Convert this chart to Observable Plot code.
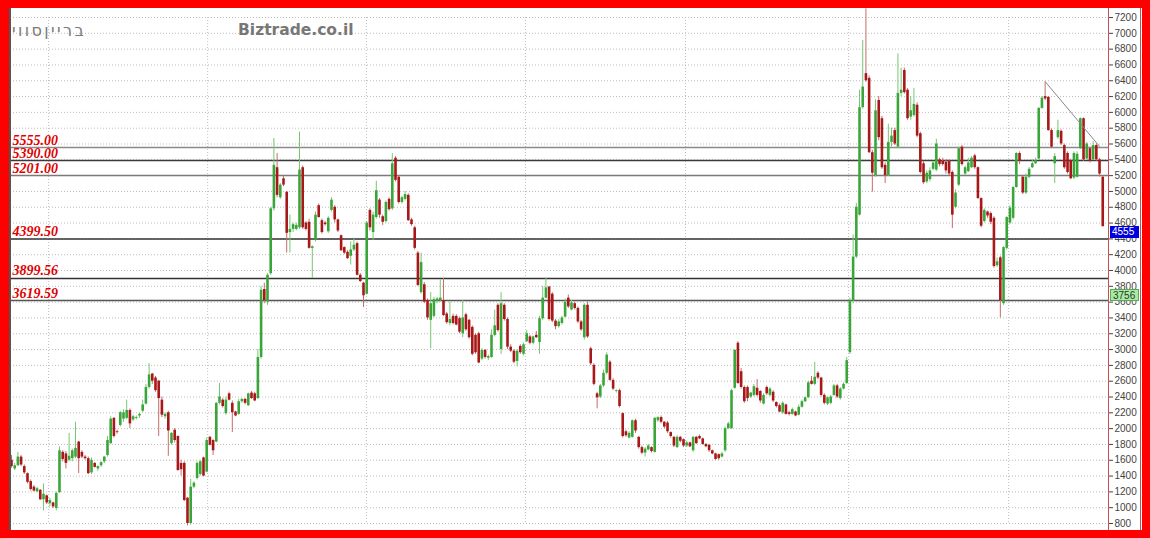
<!DOCTYPE html>
<html><head><meta charset="utf-8">
<script src="https://cdn.jsdelivr.net/npm/d3@7"></script>
<script src="https://cdn.jsdelivr.net/npm/@observablehq/plot@0.6"></script>
<style>
html,body{margin:0;padding:0;background:#fff;}
#frame{position:absolute;left:0;top:0;width:1150px;height:538px;background:#ff0000;}
#inner{position:absolute;left:9px;top:8px;width:1133px;height:522px;background:#fff;overflow:hidden;}
#inner svg{position:absolute;left:0;top:0;}
.ov{position:absolute;white-space:nowrap;}
</style></head>
<body><div id="frame"><div id="inner"></div></div>
<script>
// Weekly candles
const open = [
1600,1490,1530,1640,1520,1430,1330,1260,1200,1220,
1100,1150,1050,1060,990,1190,1700,1680,1600,1620,
1640,1830,1700,1640,1620,1440,1560,1490,1530,1580,
1660,1810,2130,1960,2040,2120,2130,2230,2110,2130,
2160,2220,2310,2520,2690,2640,2600,2360,2150,2200,
1810,1980,1900,1560,1560,1120,800,1260,1370,1420,
1630,1450,1890,1850,1830,2320,2360,2190,2440,2320,
2210,2180,2340,2370,2290,2450,2440,2380,2900,3760,
3600,3960,4780,5300,4920,5160,4990,4480,4520,4520,
4540,5300,4600,4610,4280,4380,4820,4630,4600,4490,
4760,4800,4640,4440,4290,4230,4180,4260,4340,3940,
3840,3700,4760,4480,4670,4890,4680,4620,4900,4780,
5420,5180,4860,4900,4950,4640,4540,4220,3720,3820,
3620,3370,3420,3610,3620,3620,3450,3330,3420,3420,
3390,3200,3440,3370,3280,3180,3200,2880,2990,2890,
2900,3180,3560,3000,3560,3380,3030,2980,2850,3040,
2940,3100,3160,3080,3180,3090,3390,3650,3790,3700,
3360,3290,3330,3410,3650,3500,3580,3520,3350,3150,
3560,3010,2800,2440,2400,2540,2700,2840,2610,2470,
2480,2190,1960,1880,1890,2100,1890,1760,1690,1730,
1760,1700,2100,2140,2080,2070,1950,1890,1760,1890,
1860,1780,1820,1720,1890,1900,1870,1800,1790,1720,
1680,1670,1640,1720,2000,2000,2510,3080,2720,2520,
2520,2400,2420,2510,2470,2310,2520,2420,2460,2330,
2290,2200,2300,2200,2180,2210,2170,2270,2340,2390,
2600,2560,2700,2640,2420,2310,2320,2420,2540,2380,
2500,2570,2960,3620,4170,4700,6060,6490,6430,5490,
5200,6150,5920,5330,5200,5620,5770,5560,6240,6530,
6280,5940,5960,6090,5730,5350,5120,5150,5280,5270,
5400,5380,5370,5380,5240,4800,5080,5560,5220,5250,
5300,5450,5300,4910,4620,4740,4720,4660,4060,4160,
3580,4280,4600,4660,5050,5480,5180,4980,5180,5300,
5350,5410,6050,6200,6190,5770,5350,5680,5760,5580,
5480,5390,5170,5180,5540,5920,5410,5540,5400,5580,
5400,5180];
const high = [
1660,1560,1700,1660,1540,1440,1350,1280,1260,1230,
1300,1160,1120,1070,1200,1770,1720,1710,1940,1740,
2080,1840,1720,1660,1640,1630,1570,1530,1580,1650,
1900,2150,2140,1980,2220,2240,2360,2250,2170,2160,
2200,2360,2560,2820,2700,2660,2610,2400,2200,2220,
1950,2000,1910,1600,1580,1130,1360,1330,1580,1600,
1640,1880,1900,1860,2330,2570,2380,2400,2460,2350,
2220,2370,2380,2380,2450,2470,2460,3000,3800,3840,
3960,4800,5670,5480,5100,5200,5000,4700,4600,4600,
5750,5320,4620,4650,4310,4740,4840,4650,4620,4680,
4920,4820,4650,4450,4300,4250,4360,4410,4360,3960,
3850,4620,4780,4740,5130,4910,4700,4880,4920,5480,
5440,5200,4940,5000,4970,4660,4560,4240,4220,3850,
3640,3720,3660,3660,3880,3900,3470,3600,3450,3440,
3410,3620,3460,3380,3300,3200,3220,3010,3000,2930,
3250,3500,3580,3720,3580,3400,3060,3000,3000,3060,
3080,3240,3180,3170,3230,3420,3800,3900,3800,3720,
3380,3380,3420,3640,3690,3620,3600,3540,3370,3580,
3600,3030,2820,2460,2560,2740,2960,2860,2630,2490,
2500,2200,1980,1960,2110,2120,1900,1780,1760,1800,
1770,2140,2150,2160,2090,2090,1960,1900,1910,1900,
1870,1840,1830,1900,1900,1920,1880,1810,1800,1730,
1690,1680,1700,2020,2080,2500,3000,3100,2760,2540,
2540,2460,2560,2620,2480,2440,2540,2520,2480,2340,
2310,2340,2310,2220,2260,2220,2300,2360,2400,2600,
2660,2840,2720,2650,2440,2400,2420,2560,2560,2520,
2580,2900,3650,4450,4850,6280,6910,7310,6460,5520,
6160,6200,5950,5360,5850,5800,5800,6740,6560,6560,
6300,6200,6300,6120,5750,5380,5260,5300,5380,5660,
5420,5420,5400,5400,5260,5020,5560,5580,5320,5420,
5440,5470,5310,4920,4780,4750,4740,4680,4160,4180,
4300,4680,4820,5060,5490,5500,5200,5220,5300,5400,
5420,6060,6200,6380,6200,5790,5480,5900,5780,5600,
5500,5410,5500,5500,5930,5930,5620,5560,5630,5600,
5420,5200];
const low = [
1500,1470,1520,1520,1420,1300,1210,1200,1190,1090,
960,1040,1010,990,960,1180,1580,1490,1580,1580,
1620,1430,1620,1600,1420,1420,1500,1460,1510,1560,
1640,1800,1880,1930,2020,2080,2110,2000,2090,2110,
2130,2200,2300,2500,2560,2460,1900,2140,2120,1650,
1790,1820,1460,1400,1080,770,780,1240,1350,1400,
1390,1440,1780,1660,1820,2300,2260,2170,2350,1950,
2150,2170,2320,2300,2280,2370,2340,2370,2880,3580,
3560,3940,4750,4920,4900,5060,4220,4220,4480,4500,
4520,4520,4500,4270,3900,4360,4660,4460,4560,4470,
4740,4600,4480,4240,4200,4140,4070,4240,3930,3850,
3530,3690,4500,4380,4650,4660,4570,4600,4750,4760,
5120,4840,4840,4880,4620,4560,4260,3800,3700,3580,
3370,3010,3400,3580,3600,3420,3320,3300,3310,3300,
3200,3150,3230,3130,2920,2940,2820,2860,2880,2860,
2890,3160,3220,2940,3360,3000,2960,2820,2780,2940,
2920,3090,3060,3060,3140,2940,3370,3640,3360,3340,
3250,3270,3310,3400,3520,3490,3500,3330,3230,3120,
3140,2800,2540,2250,2380,2520,2680,2600,2480,2450,
2260,1880,1890,1870,1880,1940,1740,1670,1640,1720,
1690,1690,2080,2060,2000,1940,1880,1760,1750,1820,
1760,1760,1760,1700,1800,1860,1790,1760,1700,1670,
1600,1600,1630,1700,1990,1990,2500,2560,2500,2320,
2340,2380,2400,2400,2320,2300,2420,2400,2330,2260,
2200,2180,2170,2160,2170,2150,2160,2260,2330,2380,
2550,2540,2620,2400,2300,2290,2300,2410,2380,2360,
2490,2560,2940,3580,4150,4690,6040,6380,5480,4990,
5180,5640,5280,5100,5190,5560,5580,5540,6200,6230,
5900,5900,5940,5680,5220,5090,5100,5120,5260,5250,
5310,5320,5220,5200,4530,4780,5060,5320,5200,5240,
5290,5280,4900,4540,4600,4660,4580,4030,4040,3400,
3560,4260,4580,4640,5040,5340,4960,4960,5160,5290,
5340,5400,6040,6150,5760,5540,5100,5660,5580,5280,
5220,5150,5150,5170,5530,5380,5400,5360,5390,5380,
5180,4550];
const close = [
1520,1530,1640,1540,1440,1320,1230,1210,1240,1100,
1170,1060,1090,1010,1180,1720,1610,1560,1650,1720,
1750,1620,1640,1620,1430,1600,1510,1520,1570,1640,
1850,2120,1900,1950,2200,2200,2230,2060,2150,2140,
2180,2300,2520,2680,2600,2480,2380,2170,2180,1970,
1940,1850,1470,1480,1090,800,1260,1310,1560,1580,
1400,1850,1790,1720,2320,2400,2280,2360,2360,2200,
2160,2340,2370,2320,2440,2380,2350,2900,3750,3620,
3940,4780,5330,4950,5080,5080,4470,4520,4580,4570,
5270,4540,4520,4280,4300,4700,4670,4480,4580,4660,
4890,4640,4500,4250,4220,4150,4260,4320,3940,3860,
3680,4600,4540,4700,5010,4700,4610,4860,4770,5350,
5140,4860,4920,4960,4630,4580,4280,3810,4100,3600,
3400,3580,3630,3640,3650,3430,3340,3380,3330,3310,
3220,3400,3250,3150,2940,2960,2830,2990,2900,2910,
3180,3300,3240,3580,3380,3030,2980,2840,2980,2960,
3060,3200,3080,3160,3150,3390,3650,3780,3380,3360,
3290,3350,3400,3600,3540,3590,3520,3350,3250,3560,
3160,2820,2560,2390,2540,2700,2930,2610,2500,2480,
2280,1900,1910,1940,2100,1970,1760,1690,1740,1780,
1710,2130,2140,2080,2020,1960,1900,1780,1890,1840,
1780,1820,1770,1890,1810,1870,1800,1770,1720,1680,
1610,1620,1680,2000,2060,2480,2990,2570,2520,2340,
2380,2450,2530,2420,2350,2420,2440,2500,2350,2280,
2210,2320,2180,2180,2240,2160,2270,2340,2390,2580,
2560,2650,2640,2420,2320,2390,2400,2540,2400,2500,
2560,2860,3620,4170,4800,6060,6320,6400,5490,5230,
6020,5680,5300,5200,5620,5700,5600,6240,6280,6250,
5920,6020,6100,5700,5240,5110,5230,5260,5360,5600,
5340,5340,5260,5220,4700,4980,5540,5340,5300,5360,
5420,5300,4910,4560,4760,4690,4610,4050,4110,3620,
4290,4670,4790,5050,5480,5380,4980,5180,5280,5350,
5390,6050,6180,6170,5770,5560,5440,5770,5600,5300,
5240,5160,5480,5470,5920,5400,5600,5380,5580,5400,
5220,4555];

// Axis ticks
const yTicks = [800,1000,1200,1400,1600,1800,2000,2200,2400,2600,2800,3000,3200,3400,3600,3800,4000,4200,4400,4600,4800,5000,5200,5400,5600,5800,6000,6200,6400,6600,6800,7000,7200];
// Year separators (candle index positions)
const yearTicks = [11.6, 61.3, 110.9, 160.6, 210.6, 261.6, 311.6];

// Horizontal levels
const levelValues = [5555, 5390, 5201, 4399.5, 3899.56, 3619.59];
const levelLabels = ["5555.00", "5390.00", "5201.00", "4399.50", "3899.56", "3619.59"];
const levelColors = ["#8a8a8a", "#3a3a3a", "#7a7a7a", "#333333", "#333333", "#555555"];

// Trend line end points
const trendIdx = [323, 340];
const trendVal = [6390, 5570];

// Price tags on the axis
const tagValues = [4555, 3756];
const tagLabels = ["4555", "3756"];

// Titles
const titleHe = "ברייןסווי";
const titleSite = "Biztrade.co.il";

const candles = close.map((c, i) => ({i, o: open[i], h: high[i], l: low[i], c, up: c >= open[i]}));
const levels = levelValues.map((v, k) => ({v, label: levelLabels[k], color: levelColors[k]}));
const trend = trendIdx.map((x, k) => ({x, y: trendVal[k]}));

const chart = Plot.plot({
  width: 1133, height: 522,
  marginLeft: 1, marginRight: 34, marginTop: 9, marginBottom: 7,
  style: {fontFamily: "'Liberation Sans', Arial, sans-serif", fontSize: "10px", color: "#444", background: "transparent", overflow: "visible"},
  x: {domain: [-0.31, 342.8], axis: null},
  y: {domain: [800, 7200], axis: "right", ticks: yTicks, tickFormat: d => String(d), tickSize: 4, tickPadding: 2, label: null},
  marks: [
    Plot.ruleY(yTicks, {stroke: "#bdbdbd", strokeDasharray: "1,2"}),
    Plot.ruleX(yearTicks, {stroke: "#bdbdbd", strokeDasharray: "1,2"}),
    Plot.ruleY(levels, {y: "v", stroke: d => d.color, strokeWidth: 1.5}),
    Plot.text(levels, {y: "v", text: "label", frameAnchor: "left", textAnchor: "start", lineAnchor: "bottom", dx: 2, dy: -3,
      fill: "#e00000", fontFamily: "'Liberation Serif', 'Times New Roman', serif", fontWeight: "bold", fontStyle: "italic", fontSize: 14}),
    Plot.ruleX(candles, {filter: d => d.up, x: "i", y1: "l", y2: "h", stroke: "#74c874", strokeWidth: 1}),
    Plot.ruleX(candles, {filter: d => !d.up, x: "i", y1: "l", y2: "h", stroke: "#c86a6a", strokeWidth: 1}),
    Plot.ruleX(candles, {filter: d => d.up, x: "i", y1: "o", y2: "c", stroke: "#3aa63a", strokeWidth: 2.6}),
    Plot.ruleX(candles, {filter: d => !d.up, x: "i", y1: "o", y2: "c", stroke: "#a81818", strokeWidth: 2.6}),
    Plot.line(trend, {x: "x", y: "y", stroke: "#888", strokeWidth: 1})
  ]
});
const inner = document.getElementById("inner");
inner.appendChild(chart);

const ys = chart.scale("y");
function addDiv(css, text) {
  const d = document.createElement("div");
  d.className = "ov";
  d.style.cssText = css;
  if (text != null) d.textContent = text;
  inner.appendChild(d);
  return d;
}
// plot-area borders
addDiv("left:0;top:0;width:2px;height:522px;background:#555;");
addDiv("left:1099px;top:0;width:1px;height:522px;background:#c85050;");
addDiv("left:1131px;top:0;width:1px;height:522px;background:#c85050;");
// titles
addDiv("left:3px;top:13px;font:16px 'DejaVu Sans',sans-serif;letter-spacing:2.4px;color:#7a7a7a;", titleHe);
addDiv("left:229px;top:13px;font:bold 15.5px 'DejaVu Sans',sans-serif;color:#777;", titleSite);
// axis tags
const tagStyles = [
  "background:#0000dd;color:#fff;",
  "background:#a6eca0;color:#333;border:1px solid #5aa85a;box-sizing:border-box;"
];
tagValues.forEach((v, k) => {
  const top = ys.apply(v);
  addDiv(`left:1101px;top:${top}px;width:29px;height:12px;line-height:12px;font:10px 'Liberation Sans',Arial,sans-serif;padding-left:2px;box-sizing:border-box;${tagStyles[k]}`, tagLabels[k]);
});
</script>
</body></html>
